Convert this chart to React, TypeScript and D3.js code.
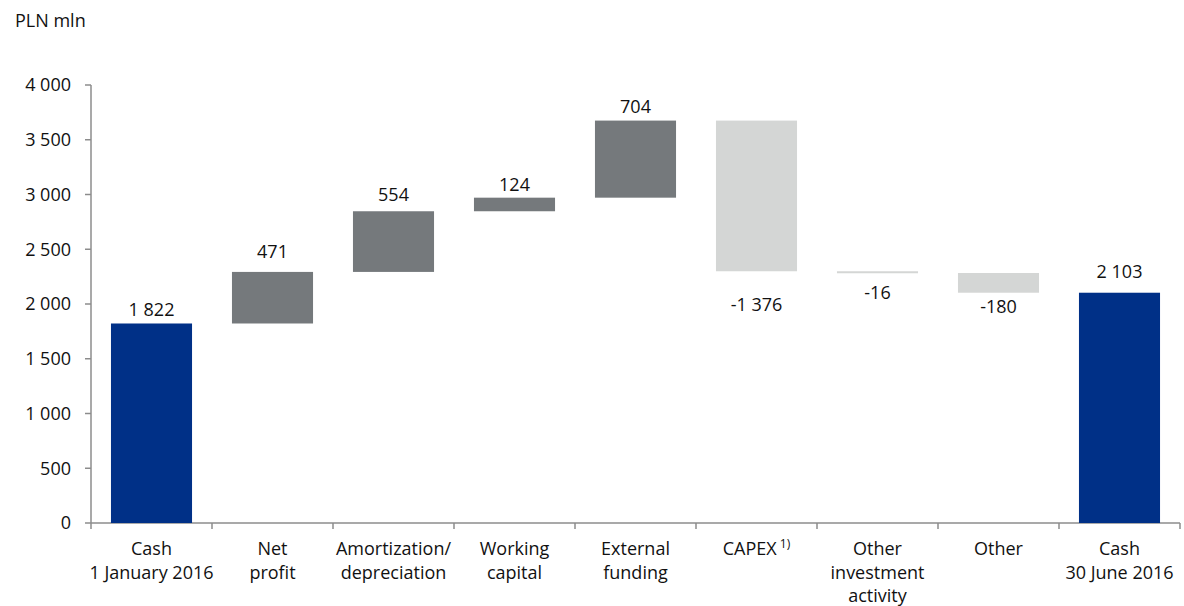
import React from "react";
import * as d3 from "d3";

const categories = [
  ["Cash", "1 January 2016"],
  ["Net", "profit"],
  ["Amortization/", "depreciation"],
  ["Working", "capital"],
  ["External", "funding"],
  ["CAPEX"],
  ["Other", "investment", "activity"],
  ["Other"],
  ["Cash", "30 June 2016"],
];
const values = [1822, 471, 554, 124, 704, -1376, -16, -180, 2103];
const kinds = ["total", "up", "up", "up", "up", "down", "down", "down", "total"];
const yTicks = [0, 500, 1000, 1500, 2000, 2500, 3000, 3500, 4000];
const labelGap = [14, 20, 17, 13, 14, 33, 20, 14, 21];

const colors: Record<string, string> = {
  total: "#003087",
  up: "#75797c",
  down: "#d4d6d5",
};

const fmt = (v: number) => {
  const s = d3.format(",")(Math.abs(v)).replace(/,/g, " ");
  return (v < 0 ? "-" : "") + s;
};

export default function App() {
  const W = 1184, H = 606;
  const left = 91, right = 1180, top = 85, bottom = 523;
  const x = d3.scaleBand<number>().domain(d3.range(categories.length)).range([left, right]).paddingInner(0.33).paddingOuter(0.165);
  const y = d3.scaleLinear().domain([0, 4000]).range([bottom, top]);

  let run = 0;
  const bars = values.map((v, i) => {
    let y0: number, y1: number;
    if (kinds[i] === "total") { y0 = 0; y1 = v; run = v; }
    else { y0 = run; y1 = run + v; run = y1; }
    return { i, v, lo: Math.min(y0, y1), hi: Math.max(y0, y1), kind: kinds[i] };
  });

  const step = x.step();
  const font = "'Open Sans', sans-serif";
  const fs = 18;
  const fw = 500;

  return (
    <svg width={W} height={H} style={{ position: "absolute", left: 0, top: 0 }} fontFamily={font} fontWeight={fw}>
      <text x={15} y={27} fontSize={fs} fill="#111">PLN mln</text>
      {/* y axis */}
      <line x1={left} x2={left} y1={top} y2={bottom} stroke="#8c8c8c" strokeWidth={1.5} />
      {yTicks.map((t) => (
        <g key={t}>
          <line x1={left - 6} x2={left} y1={y(t)} y2={y(t)} stroke="#8c8c8c" strokeWidth={1.5} />
          <text x={71} y={y(t)} dy="0.35em" textAnchor="end" fontSize={fs} fill="#111">{fmt(t)}</text>
        </g>
      ))}
      {/* x axis */}
      <line x1={left} x2={right} y1={bottom} y2={bottom} stroke="#8c8c8c" strokeWidth={1.5} />
      {d3.range(categories.length + 1).map((i) => (
        <line key={i} x1={left + i * step} x2={left + i * step} y1={bottom} y2={bottom + 6} stroke="#8c8c8c" strokeWidth={1.5} />
      ))}
      {bars.map((b) => {
        const h = Math.max(y(b.lo) - y(b.hi), 2);
        const cx = (x(b.i) as number) + x.bandwidth() / 2;
        const labelY = b.v >= 0 ? y(b.hi) - labelGap[b.i] : y(b.lo) + labelGap[b.i];
        return (
          <g key={b.i}>
            <rect x={x(b.i)} y={y(b.hi)} width={x.bandwidth()} height={h} fill={colors[b.kind]} />
            <text x={cx} y={labelY} dy="0.35em" textAnchor="middle" fontSize={fs} fill="#111">{fmt(b.v)}</text>
          </g>
        );
      })}
      {categories.map((lines, i) => {
        const cx = (x(i) as number) + x.bandwidth() / 2;
        return (
          <text key={i} x={cx} textAnchor="middle" fontSize={fs} fill="#111">
            {lines.map((l, j) => (
              <tspan key={j} x={cx} y={555 + j * 23.5}>
                {l}
                {l === "CAPEX" ? <tspan fontSize={12} dy={-7}>{" 1)"}</tspan> : null}
              </tspan>
            ))}
          </text>
        );
      })}
    </svg>
  );
}
